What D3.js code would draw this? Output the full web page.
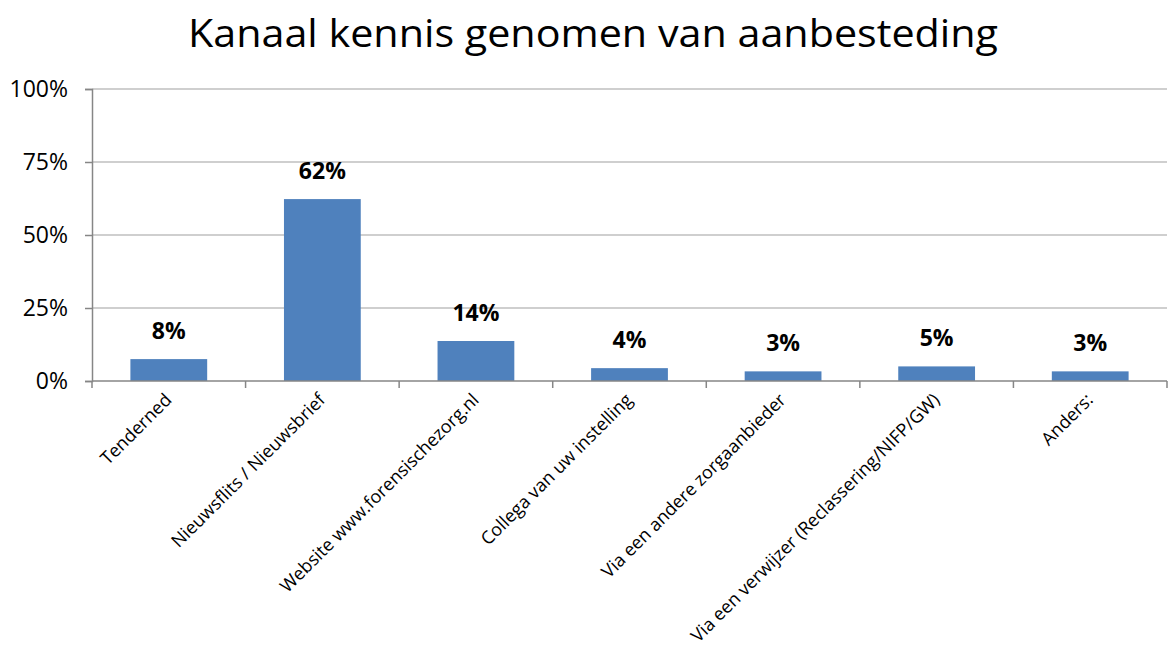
<!DOCTYPE html>
<html>
<head>
<meta charset="utf-8">
<script src="https://cdn.jsdelivr.net/npm/d3@7"></script>
<style>
  body { margin: 0; background: #fff; }
  text { font-family: "Open Sans", "Liberation Sans", sans-serif; }
</style>
</head>
<body>
<script>
// categories and values
const categories = [
    "Tenderned",
    "Nieuwsflits / Nieuwsbrief",
    "Website www.forensischezorg.nl",
    "Collega van uw instelling",
    "Via een andere zorgaanbieder",
    "Via een verwijzer (Reclassering/NIFP/GW)",
    "Anders:"
];
const values = [7.5, 62.3, 13.7, 4.4, 3.3, 5.0, 3.3];
const valueLabels = ["8%", "62%", "14%", "4%", "3%", "5%", "3%"];
const yTicks = [0, 25, 50, 75, 100];

let width = 1172, height = 668;
let margin = {left: 92, right: 5, top: 89, bottom: 287};

let svg = d3.select("body")
            .append("svg")
            .attr("width", width)
            .attr("height", height);

let x = d3.scaleBand()
          .domain(categories)
          .range([margin.left, width - margin.right])
          .paddingInner(0.5)
          .paddingOuter(0.25);

let y = d3.scaleLinear()
          .domain([0, 100])
          .range([height - margin.bottom, margin.top]);

// title
svg.append("text")
   .attr("x", 593)
   .attr("y", 47)
   .style("text-anchor", "middle")
   .style("font-size", "38px")
   .attr("textLength", 810)
   .attr("lengthAdjust", "spacingAndGlyphs")
   .style("fill", "#000")
   .text("Kanaal kennis genomen van aanbesteding");

// gridlines
svg.append("g")
   .selectAll("line")
   .data(yTicks.filter(d => d > 0))
   .enter()
   .append("line")
   .attr("x1", margin.left)
   .attr("x2", width - margin.right)
   .attr("y1", d => y(d))
   .attr("y2", d => y(d))
   .style("stroke", "#bfbfbf")
   .style("stroke-width", 1.5);

// y axis
let yAxis = svg.append("g")
   .attr("transform", "translate(" + margin.left + ",0)")
   .call(d3.axisLeft(y).tickValues(yTicks).tickSize(7).tickPadding(17).tickFormat(d => d + "%"));
yAxis.select(".domain").style("stroke", "#868686").style("stroke-width", 1.5);
yAxis.selectAll(".tick line").style("stroke", "#868686").style("stroke-width", 1.5);
yAxis.selectAll(".tick text")
     .style("font-size", "23px")
     .style("fill", "#000");

// bars
svg.append("g")
   .selectAll("rect")
   .data(values)
   .enter()
   .append("rect")
   .attr("x", (d, i) => x(categories[i]))
   .attr("y", d => y(d))
   .attr("width", x.bandwidth())
   .attr("height", d => y(0) - y(d))
   .style("fill", "#4f81bd");

// x axis line + ticks between categories
let step = x.step();
svg.append("line")
   .attr("x1", margin.left)
   .attr("x2", width - margin.right)
   .attr("y1", y(0))
   .attr("y2", y(0))
   .style("stroke", "#868686")
   .style("stroke-width", 1.5);
svg.append("g")
   .selectAll("line")
   .data(categories.map((c, i) => x(c) - step * 0.25).concat([width - margin.right]))
   .enter()
   .append("line")
   .attr("x1", d => d)
   .attr("x2", d => d)
   .attr("y1", y(0))
   .attr("y2", y(0) + 7)
   .style("stroke", "#868686")
   .style("stroke-width", 1.5);

// value labels
svg.append("g")
   .selectAll("text")
   .data(values)
   .enter()
   .append("text")
   .attr("x", (d, i) => x(categories[i]) + x.bandwidth() / 2)
   .attr("y", d => y(d) - 20)
   .style("text-anchor", "middle")
   .style("font-size", "23px")
   .style("font-weight", "bold")
   .text((d, i) => valueLabels[i]);

// category labels, rotated
svg.append("g")
   .selectAll("text")
   .data(categories)
   .enter()
   .append("text")
   .attr("transform", d => "translate(" + (x(d) + x.bandwidth() / 2 + 4) + "," + (y(0) + 20) + ") rotate(-45)")
   .style("text-anchor", "end")
   .style("font-size", "18px")
   .style("fill", "#000")
   .text(d => d);
</script>
</body>
</html>
